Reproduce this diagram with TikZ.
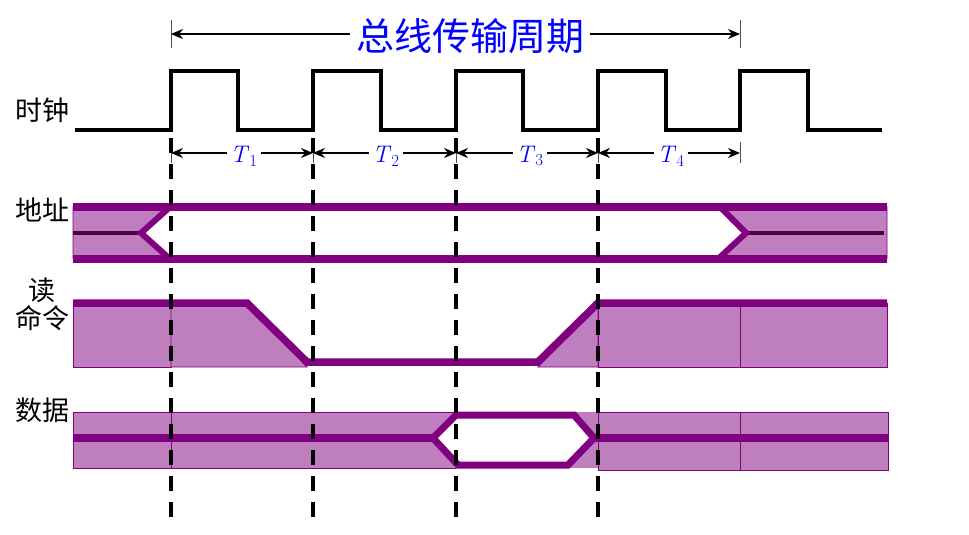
\documentclass[tikz,border=0pt]{standalone}
\usepackage{fontspec}
\newfontfamily\cjk{Noto Sans CJK SC}
\usepackage{tikz}
\usetikzlibrary{arrows.meta, positioning, calc}
\definecolor{busline}{RGB}{128,0,128}
\definecolor{busfill}{RGB}{191,127,191}
\definecolor{busdark}{RGB}{75,0,65}
\newcommand{\per}[1]{\textit{T}\textsubscript{#1}}
\tikzset{
  sig/.style={font=\cjk\fontsize{27}{30}\selectfont},
  tlabel/.style={font=\fontsize{24}{28}\selectfont, text=blue, fill=white, inner sep=3pt},
  span/.style={{Stealth[length=12pt,width=10pt]}-{Stealth[length=12pt,width=10pt]}, line width=1.6pt},
  tick/.style={gray!60!black, line width=1pt},
  fillbox/.style={fill=busfill, draw=busline, line width=0.8pt},
  thickbus/.style={busline, line width=7.5pt, line join=miter},
  cut/.style={black, line width=4.5pt, dash pattern=on 15pt off 11pt}
}
\begin{document}
\begin{tikzpicture}[x=1pt, y=-1pt]
\useasboundingbox[fill=white] (0,0) rectangle (969,535);

% title span
\coordinate (bs) at (171,34);
\coordinate (be) at (740,34);
\draw[tick] (171,20) -- (171,48);
\draw[tick] (740,20) -- (740,48);
\draw[span] (bs) -- (be);
\node[font=\cjk\fontsize{38}{42}\selectfont, text=blue, fill=white, inner xsep=6pt] (period) at (470,36) {总线传输周期};

% signal names
\node[sig] (clk) at (42,110) {时钟};
\node[sig] (addr) at (42,210) {地址};
\node[sig] (rd) at (42,290) {读};
\node[sig, below=-4pt of rd] (cmd) {命令};
\node[sig] (data) at (42,410) {数据};

% clock
\draw[line width=4pt, line join=miter] (75,130) -- (171,130)
  -- (171,71) -- (238,71) -- (238,130) -- (313,130)
  -- (313,71) -- (381,71) -- (381,130) -- (456,130)
  -- (456,71) -- (523,71) -- (523,130) -- (598,130)
  -- (598,71) -- (666,71) -- (666,130) -- (740,130)
  -- (740,71) -- (808,71) -- (808,130) -- (882,130);

% clock periods
\coordinate (c0) at (171,153);
\coordinate (c1) at (313,153);
\coordinate (c2) at (456,153);
\coordinate (c3) at (598,153);
\coordinate (c4) at (740,153);
\foreach \x in {171,313,456,598,740}
  \draw[tick] (\x,142) -- (\x,163);
\draw[span] (c0) -- (c1);
\draw[span] (c1) -- (c2);
\draw[span] (c2) -- (c3);
\draw[span] (c3) -- (c4);
\node[tlabel] (t1) at (244,156) {\per{1}};
\node[tlabel] (t2) at (386,156) {\per{2}};
\node[tlabel] (t3) at (530,156) {\per{3}};
\node[tlabel] (t4) at (671,156) {\per{4}};

% address
\draw[fillbox] (73,207) -- (168,207) -- (140,233) -- (168,259) -- (73,259) -- cycle;
\draw[fillbox] (722,207) -- (887,207) -- (887,259) -- (718,259) -- (746,233) -- cycle;
\draw[busdark, line width=3.5pt] (73,233) -- (140,233);
\draw[busdark, line width=3.5pt] (748,233) -- (884,233);
\draw[busline, line width=6pt] (170,207) -- (141,233) -- (170,259);
\draw[busline, line width=6pt] (720,207) -- (746,233) -- (718,259);
\draw[busline, line width=8pt] (73,207) -- (887,207);
\draw[busline, line width=8pt] (73,259) -- (887,259);

% read command
\draw[fillbox] (73,303) rectangle (171,367);
\draw[fillbox] (171,303) -- (247,303) -- (307,367) -- (171,367) -- cycle;
\draw[fillbox] (538,367) -- (598,303) -- (598,367) -- cycle;
\draw[fillbox] (598,303) rectangle (740,367);
\draw[fillbox] (740,303) rectangle (887,367);
\draw[thickbus] (73,303) -- (247,303) -- (307,362) -- (538,362) -- (598,303) -- (887,303);

% data
\draw[fillbox] (73,412) rectangle (171,468);
\draw[fillbox] (171,412) rectangle (313,468);
\draw[fill=busfill, draw=none] (313,412) rectangle (598,468);
\draw[busline, line width=0.8pt] (313,412) -- (456,412);
\draw[busline, line width=0.8pt] (313,468) -- (456,468);
\draw[fillbox] (598,412) rectangle (740,470);
\draw[fillbox] (740,412) rectangle (888,470);
\draw[busline, line width=8pt] (73,438) -- (433,438);
\draw[busline, line width=8pt] (594,438) -- (888,438);
\draw[fill=white, draw=busline, line width=7pt, line join=miter]
  (456,415) -- (574,415) -- (594,438) -- (568,465) -- (458,465) -- (433,438) -- cycle;

% cycle boundaries
\foreach \x in {171,313,456,598}
  \draw[cut] (\x,138) -- (\x,528);
\end{tikzpicture}
\end{document}
